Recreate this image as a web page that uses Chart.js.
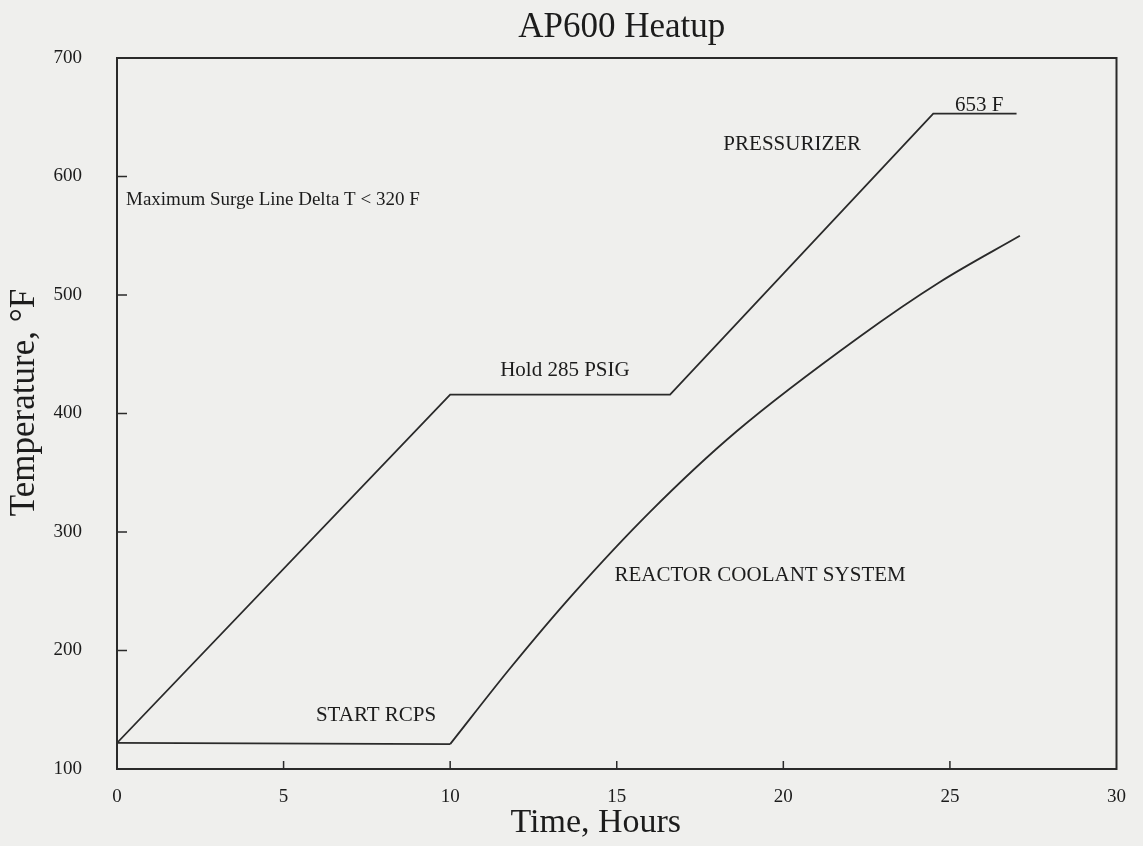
<!DOCTYPE html>
<html>
<head>
<meta charset="utf-8">
<script src="https://cdn.jsdelivr.net/npm/chart.js@4.4.0/dist/chart.umd.min.js"></script>
<style>
  html, body { margin: 0; padding: 0; background: #efefed; }
  #wrap { width: 1143px; height: 846px; position: relative; }
  canvas { display: block; }
</style>
</head>
<body>
<div id="wrap"><canvas id="c" width="1143" height="846"></canvas></div>
<script>
// ---------------- data ----------------
const chartTitle = "AP600 Heatup";
const xAxisTitle = "Time, Hours";
const yAxisTitle = "Temperature, °F";

const xTickStep = 5;
const xMin = 0, xMax = 30;
const yTickStep = 100;
const yMin = 100, yMax = 700;

const seriesNames = ["PRESSURIZER", "REACTOR COOLANT SYSTEM"];

// Pressurizer temperature (°F) vs time (hours)
const pressurizerHours = [0, 10.0, 16.6, 24.5, 27.0];
const pressurizerTemps = [122, 416, 416, 653, 653];

// Reactor coolant system: hold before RCPs start, then heatup
const rcsHoldHours = [0, 10.0];
const rcsHoldTemps = [122, 121];
const rcsHeatupHours = [10.0, 11.8, 13.7, 16.0, 18.6, 22.3, 24.7, 27.1];
const rcsHeatupTemps = [121, 185, 248, 317, 385, 465, 511, 550];

const noteTexts = [
  "Maximum Surge Line Delta T < 320 F",
  "PRESSURIZER",
  "653 F",
  "Hold 285 PSIG",
  "START RCPS",
  "REACTOR COOLANT SYSTEM"
];
const noteHours = [0.27, 18.2, 25.15, 11.5, 5.97, 14.93];
const noteTemps = [580, 627, 660, 436, 145, 263];
const noteSizes = [19, 21, 21, 21, 21, 21];

// ---------------- style ----------------
const SERIF = "'Liberation Serif', 'DejaVu Serif', serif";
const INK = "#1c1c1c";
const LINE = "#2a2a2a";

function toPoints(xs, ys) { return xs.map((v, i) => ({ x: v, y: ys[i] })); }

const paperPlugin = {
  id: 'paper',
  beforeDraw(chart) {
    const ctx = chart.ctx;
    ctx.save();
    ctx.fillStyle = '#efefed';
    ctx.fillRect(0, 0, chart.width, chart.height);
    ctx.restore();
  },
  afterDraw(chart) {
    const { ctx, chartArea: a, scales } = chart;
    const x = scales.x, y = scales.y;
    ctx.save();
    // frame
    ctx.strokeStyle = LINE;
    ctx.lineWidth = 2;
    ctx.strokeRect(a.left, a.top, a.right - a.left, a.bottom - a.top);
    // inward ticks
    ctx.lineWidth = 1.5;
    ctx.beginPath();
    x.ticks.forEach(t => {
      if (t.value > x.min && t.value < x.max) {
        const px = x.getPixelForValue(t.value);
        ctx.moveTo(px, a.bottom);
        ctx.lineTo(px, a.bottom - 8);
      }
    });
    y.ticks.forEach(t => {
      if (t.value > y.min && t.value < y.max) {
        const py = y.getPixelForValue(t.value);
        ctx.moveTo(a.left, py);
        ctx.lineTo(a.left + 10, py);
      }
    });
    ctx.stroke();

    // annotations
    ctx.fillStyle = INK;
    ctx.textBaseline = 'middle';
    ctx.textAlign = 'left';
    noteTexts.forEach((txt, i) => {
      ctx.font = noteSizes[i] + "px " + SERIF;
      ctx.fillText(txt, x.getPixelForValue(noteHours[i]), y.getPixelForValue(noteTemps[i]));
    });

    // title
    ctx.textAlign = 'center';
    ctx.font = "35px " + SERIF;
    ctx.fillText(chartTitle, (a.left + a.right) / 2 + 5, 28);

    // x axis title
    ctx.font = "34px " + SERIF;
    ctx.fillText(xAxisTitle, (a.left + a.right) / 2 - 21, a.bottom + 54);

    // y axis title
    ctx.save();
    ctx.translate(25, (a.top + a.bottom) / 2 - 11);
    ctx.rotate(-Math.PI / 2);
    ctx.font = "35px " + SERIF;
    ctx.fillText(yAxisTitle, 0, 0);
    ctx.restore();

    ctx.restore();
  }
};

const lineStyle = {
  borderColor: LINE,
  borderWidth: 1.8,
  pointRadius: 0,
  fill: false
};

new Chart(document.getElementById('c'), {
  type: 'line',
  data: {
    datasets: [
      Object.assign({
        label: seriesNames[0],
        data: toPoints(pressurizerHours, pressurizerTemps),
        tension: 0
      }, lineStyle),
      Object.assign({
        label: seriesNames[1],
        data: toPoints(rcsHoldHours, rcsHoldTemps),
        tension: 0
      }, lineStyle),
      Object.assign({
        label: seriesNames[1],
        data: toPoints(rcsHeatupHours, rcsHeatupTemps),
        cubicInterpolationMode: 'monotone'
      }, lineStyle)
    ]
  },
  options: {
    responsive: false,
    animation: false,
    devicePixelRatio: 1,
    layout: { padding: { top: 58, right: 21, left: 0, bottom: 0 } },
    plugins: {
      legend: { display: false },
      title: { display: false },
      tooltip: { enabled: false }
    },
    scales: {
      x: {
        type: 'linear',
        min: xMin, max: xMax,
        grid: { display: false, drawTicks: false },
        border: { display: false },
        ticks: {
          stepSize: xTickStep,
          color: INK,
          font: { family: SERIF, size: 19 },
          padding: 17,
          maxRotation: 0,
          autoSkip: false
        },
        afterFit(scale) { scale.height = 77; }
      },
      y: {
        type: 'linear',
        min: yMin, max: yMax,
        grid: { display: false, drawTicks: false },
        border: { display: false },
        ticks: {
          stepSize: yTickStep,
          color: INK,
          font: { family: SERIF, size: 19 },
          padding: 35
        },
        afterFit(scale) { scale.width = 117; }
      }
    }
  },
  plugins: [paperPlugin]
});
</script>
</body>
</html>
